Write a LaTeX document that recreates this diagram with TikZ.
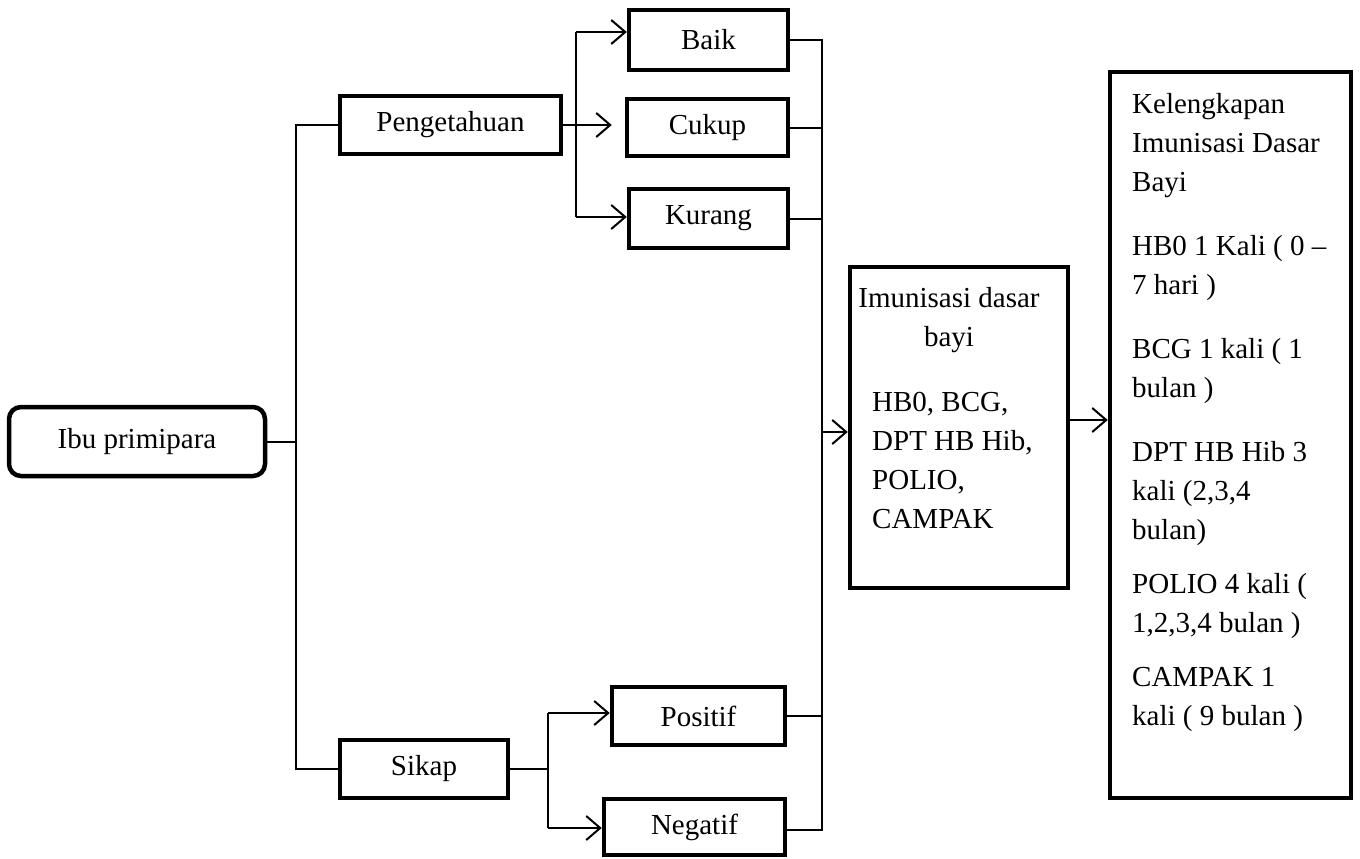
\documentclass[tikz,border=0pt]{standalone}
\usepackage{fontspec}
\setmainfont{Liberation Serif}
\usetikzlibrary{arrows.meta}
\begin{document}
\begin{tikzpicture}[x=1pt,y=-1pt,
  every node/.style={font=\fontsize{29}{39}\selectfont, inner sep=0pt},
  box/.style={draw, line width=4.5pt, minimum width=#1},
  conn/.style={line width=2pt},
  arr/.style={line width=2pt, -{Straight Barb[length=14pt,width=24pt]}}]
\useasboundingbox (0,0) rectangle (1360,859);
% boxes
\node[box=256pt, minimum height=69pt, rounded corners=12pt] (ibu) at (137,441.5) {Ibu primipara};
\node[box=221pt, minimum height=58pt] (peng) at (450.5,125) {Pengetahuan};
\node[box=159pt, minimum height=60pt] (baik) at (708.5,40) {Baik};
\node[box=161pt, minimum height=57pt] (cukup) at (707.5,127.5) {Cukup};
\node[box=159pt, minimum height=59pt] (kurang) at (708.5,218.5) {Kurang};
\node[box=168pt, minimum height=58pt] (sikap) at (424,769) {Sikap};
\node[box=173pt, minimum height=58pt] (positif) at (698.5,716) {Positif};
\node[box=181pt, minimum height=56pt] (negatif) at (694.5,827) {Negatif};
\node[box=218pt, minimum height=321pt] (imun) at (959,427.5) {};
\node[box=241pt, minimum height=726pt] (keleng) at (1230.5,435) {};
% texts inside tall boxes
\node[anchor=north, align=center] (imunA) at (949,287) {Imunisasi dasar\\bayi};
\node[anchor=north west, align=left] (imunB) at (872,392) {HB0, BCG,\\DPT HB Hib,\\POLIO,\\CAMPAK};
\node[anchor=north west, align=left] (kelT) at (1132,93) {Kelengkapan\\Imunisasi Dasar\\Bayi\\[25pt]HB0 1 Kali ( 0 --\\7 hari )\\[25pt]BCG 1 kali ( 1\\bulan )\\[25pt]DPT HB Hib 3\\kali (2,3,4\\bulan)\\[15pt]POLIO 4 kali (\\1,2,3,4 bulan )\\[15pt]CAMPAK 1\\kali ( 9 bulan )};
% bus coordinates
\coordinate (lb) at (296,441.5);
\coordinate (pbT) at (576,32);
\coordinate (pbB) at (576,217);
\coordinate (sbT) at (548,713);
\coordinate (sbB) at (548,828);
\coordinate (rbT) at (822,40);
\coordinate (rbB) at (822,830);
\coordinate (ai) at (822,432);
\coordinate (ao) at (1070,420);
% left connectors
\draw[conn] (ibu.east) -- (lb);
\draw[conn] (peng.west) -| (lb) |- (sikap.west);
% pengetahuan branches
\draw[conn] (pbT) -- (pbB);
\draw[arr] (pbT) -- (pbT -| baik.west);
\draw[arr] (peng.east) -- ([xshift=-13pt]cukup.west |- peng.east);
\draw[arr] (pbB) -- (pbB -| kurang.west);
% sikap branches
\draw[conn] (sikap.east) -- (sikap.east -| sbT);
\draw[conn] (sbT) -- (sbB);
\draw[arr] (sbT) -- (sbT -| positif.west);
\draw[arr] (sbB) -- (sbB -| negatif.west);
% right bus
\draw[conn] (baik.east) -- (rbT) -- (rbB) -- (rbB -| negatif.east);
\draw[conn] (cukup.east) -- (cukup.east -| rbT);
\draw[conn] (kurang.east) -- (kurang.east -| rbT);
\draw[conn] (positif.east) -- (positif.east -| rbT);
\draw[arr] (ai) -- (ai -| imun.west);
\draw[arr] (ao -| imun.east) -- (ao -| keleng.west);
\end{tikzpicture}
\end{document}
